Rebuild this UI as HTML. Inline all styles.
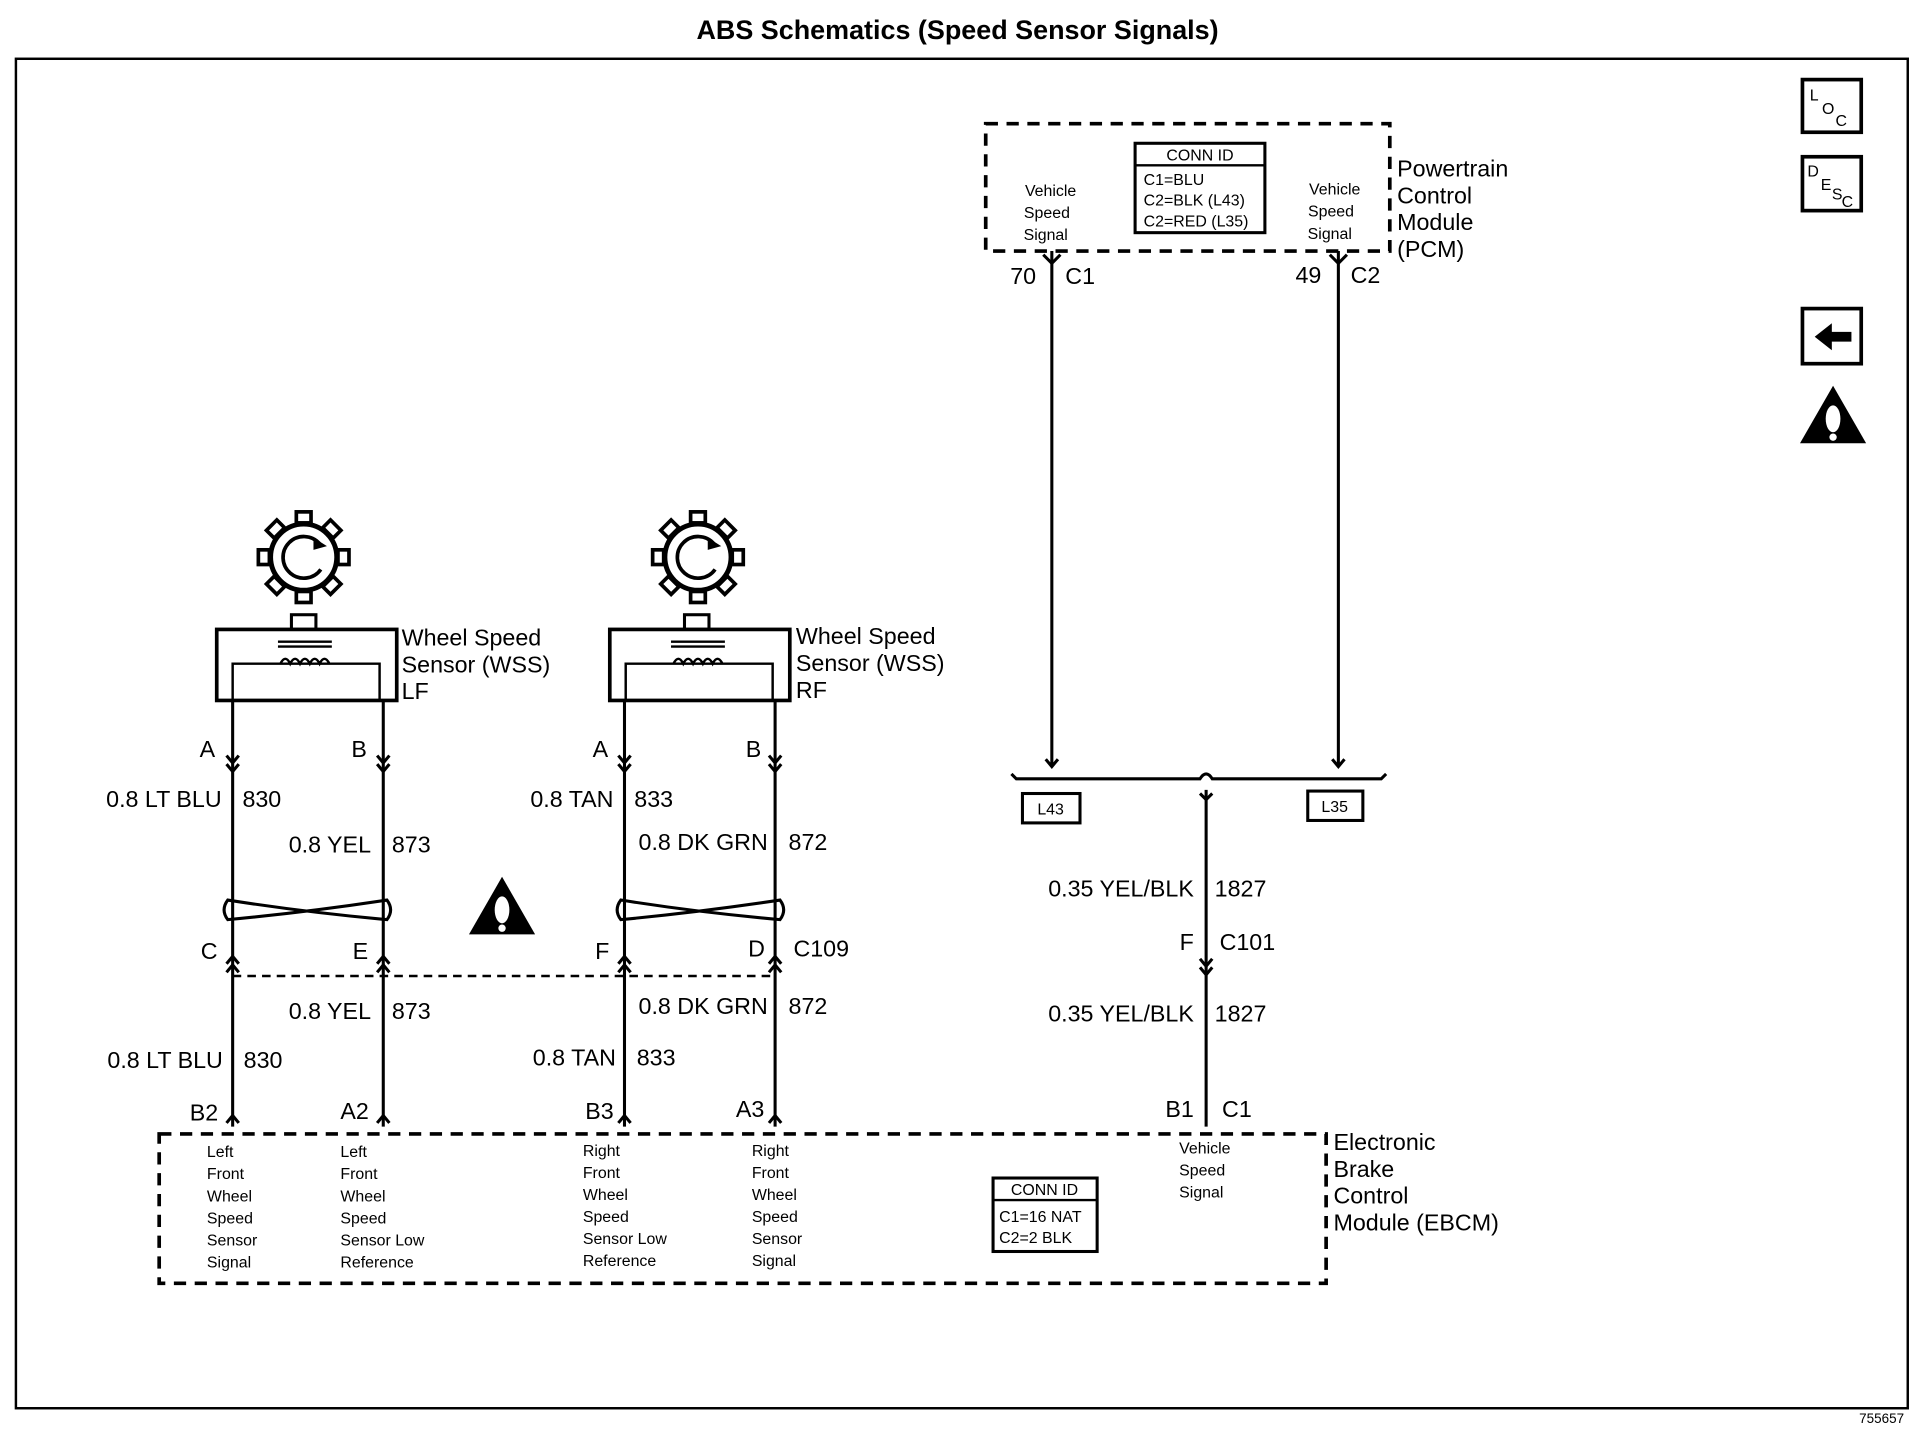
<!DOCTYPE html>
<html><head><meta charset="utf-8"><style>
html,body{margin:0;padding:0;background:#fff}
svg{display:block}
text{font-family:"Liberation Sans",Arial,sans-serif;fill:#000}
</style></head><body>
<svg width="1920" height="1456" viewBox="0 0 1568 1189" preserveAspectRatio="none" xmlns="http://www.w3.org/2000/svg">
<defs>
<g id="gear">
<circle r="27" fill="none" stroke="#000" stroke-width="4"/>
<path d="M 13 -11 A 17 17 0 1 0 14 10" fill="none" stroke="#000" stroke-width="3"/>
<polygon points="8,-16 19,-9 8,-6" fill="#000"/>
<g fill="#fff" stroke="#000" stroke-width="3">
<rect x="-6" y="-37" width="12" height="9" transform="rotate(0)"/>
<rect x="-6" y="-37" width="12" height="9" transform="rotate(45)"/>
<rect x="-6" y="-37" width="12" height="9" transform="rotate(90)"/>
<rect x="-6" y="-37" width="12" height="9" transform="rotate(135)"/>
<rect x="-6" y="-37" width="12" height="9" transform="rotate(180)"/>
<rect x="-6" y="-37" width="12" height="9" transform="rotate(225)"/>
<rect x="-6" y="-37" width="12" height="9" transform="rotate(270)"/>
<rect x="-6" y="-37" width="12" height="9" transform="rotate(315)"/>
</g>
</g>
<g id="sensor">
<rect x="0" y="0" width="147" height="58" fill="none" stroke="#000" stroke-width="3"/>
<rect x="61" y="-12" width="20" height="12" fill="none" stroke="#000" stroke-width="2.5"/>
<path d="M13 58 V28 H133 V58" fill="none" stroke="#000" stroke-width="2"/>
<path d="M50 10 H94 M50 14 H94" stroke="#000" stroke-width="2"/>
<path d="M52 28 q4-8 8 0 q4-8 8 0 q4-8 8 0 q4-8 8 0 q4-8 8 0" fill="none" stroke="#000" stroke-width="2"/>
</g>
<g id="tri"><polygon points="0,-27 27,20 -27,20" fill="#000"/><ellipse cx="0" cy="0" rx="6" ry="11" fill="#fff"/><circle cx="0" cy="15" r="3" fill="#fff"/></g>
</defs>
<text x="782" y="32" font-size="22" font-weight="bold" text-anchor="middle">ABS Schematics (Speed Sensor Signals)</text>
<rect x="13" y="48" width="1545" height="1102" fill="none" stroke="#000" stroke-width="2"/>
<text x="1555" y="1162" font-size="11" text-anchor="end">755657</text>

<!-- right icons -->
<rect x="1472" y="65" width="48" height="43" fill="none" stroke="#000" stroke-width="3"/>
<text x="1478" y="82" font-size="13">L</text><text x="1488" y="93" font-size="13">O</text><text x="1499" y="103" font-size="13">C</text>
<rect x="1472" y="128" width="48" height="44" fill="none" stroke="#000" stroke-width="3"/>
<text x="1476" y="144" font-size="13">D</text><text x="1487" y="155" font-size="13">E</text><text x="1496" y="163" font-size="13">S</text><text x="1504" y="169" font-size="13">C</text>
<rect x="1472" y="252" width="48" height="45" fill="none" stroke="#000" stroke-width="3"/>
<path d="M1482 275 L1496 264 V271 H1512 V279 H1496 V286 Z" fill="#000"/>
<use href="#tri" x="1497" y="342"/>
<use href="#tri" x="410" y="743"/>

<!-- PCM -->
<rect x="805" y="101" width="330" height="104" fill="none" stroke="#000" stroke-width="3" stroke-dasharray="10,7"/>
<rect x="927" y="117" width="106" height="73" fill="none" stroke="#000" stroke-width="2.5"/>
<line x1="927" y1="135" x2="1033" y2="135" stroke="#000" stroke-width="2"/>
<text x="980" y="131" font-size="13" text-anchor="middle">CONN ID</text>
<text x="934" y="151" font-size="13">C1=BLU</text>
<text x="934" y="168" font-size="13">C2=BLK (L43)</text>
<text x="934" y="185" font-size="13">C2=RED (L35)</text>
<text font-size="13" text-anchor="middle"><tspan x="858" y="160">Vehicle</tspan><tspan x="855" y="178">Speed</tspan><tspan x="854" y="196">Signal</tspan></text>
<text font-size="13" text-anchor="middle"><tspan x="1090" y="159">Vehicle</tspan><tspan x="1087" y="177">Speed</tspan><tspan x="1086" y="195">Signal</tspan></text>
<text font-size="19"><tspan x="1141" y="144">Powertrain</tspan><tspan x="1141" y="166">Control</tspan><tspan x="1141" y="188">Module</tspan><tspan x="1141" y="210">(PCM)</tspan></text>
<g stroke="#000" stroke-width="2.5" fill="none">
<path d="M859 205 V625 M854 620 l5 6 l5-6"/>
<path d="M1093 205 V625 M1088 620 l5 6 l5-6"/>
<path d="M852 208 l7 7 l7-7 M1086 208 l7 7 l7-7"/>
<path d="M826 632 l4 4 H980 q5-8 10 0 H1128 l4-4"/>
<path d="M985 645 V920"/>
<path d="M980 648 l5 5 l5-5"/>
<path d="M980 783 l5 6 l5-6 M980 790 l5 6 l5-6"/>
<rect x="835" y="648" width="47" height="24"/>
<rect x="1068" y="646" width="45" height="24"/>
</g>
<text font-size="13" x="858" y="665" text-anchor="middle">L43</text>
<text font-size="13" x="1090" y="663" text-anchor="middle">L35</text>
<text font-size="19"><tspan x="825" y="232">70</tspan><tspan x="870" y="232">C1</tspan><tspan x="1058" y="231">49</tspan><tspan x="1103" y="231">C2</tspan></text>
<text font-size="19" x="975" y="732" text-anchor="end">0.35 YEL/BLK</text><text font-size="19" x="992" y="732">1827</text>
<text font-size="19" x="975" y="776" text-anchor="end">F</text><text font-size="19" x="996" y="776">C101</text>
<text font-size="19" x="975" y="834" text-anchor="end">0.35 YEL/BLK</text><text font-size="19" x="992" y="834">1827</text>
<text font-size="19" x="975" y="912" text-anchor="end">B1</text><text font-size="19" x="998" y="912">C1</text>

<!-- sensors -->
<use href="#gear" x="248" y="455"/>
<use href="#gear" x="570" y="455"/>
<use href="#sensor" x="177" y="514"/>
<use href="#sensor" x="498" y="514"/>
<text font-size="19"><tspan x="328" y="527">Wheel Speed</tspan><tspan x="328" y="549">Sensor (WSS)</tspan><tspan x="328" y="571">LF</tspan></text>
<text font-size="19"><tspan x="650" y="526">Wheel Speed</tspan><tspan x="650" y="548">Sensor (WSS)</tspan><tspan x="650" y="570">RF</tspan></text>

<g stroke="#000" stroke-width="2.5" fill="none">
<path d="M190 572 V920 M313 572 V920 M510 572 V920 M633 572 V920"/>
<path d="M185 617 l5 6 l5-6 M185 624 l5 6 l5-6 M308 617 l5 6 l5-6 M308 624 l5 6 l5-6 M505 617 l5 6 l5-6 M505 624 l5 6 l5-6 M628 617 l5 6 l5-6 M628 624 l5 6 l5-6"/>
<path d="M185 787 l5-6 l5 6 M185 794 l5-6 l5 6 M308 787 l5-6 l5 6 M308 794 l5-6 l5 6 M505 787 l5-6 l5 6 M505 794 l5-6 l5 6 M628 787 l5-6 l5 6 M628 794 l5-6 l5 6"/>
<path d="M185 917 l5-6 l5 6 M308 917 l5-6 l5 6 M505 917 l5-6 l5 6 M628 917 l5-6 l5 6"/>
<path d="M186 735 Q250 745 316 751 Q322 743 316 735 Q250 745 186 751 Q180 743 186 735 Z"/>
<path d="M507 735 Q570 745 637 751 Q643 743 637 735 Q570 745 507 751 Q501 743 507 735 Z"/>
<path d="M190 797 H633" stroke-width="2" stroke-dasharray="7,5"/>
</g>
<g font-size="19">
<text x="163" y="618">A</text><text x="287" y="618">B</text><text x="484" y="618">A</text><text x="609" y="618">B</text>
<text x="181" y="659" text-anchor="end">0.8 LT BLU</text><text x="198" y="659">830</text>
<text x="303" y="696" text-anchor="end">0.8 YEL</text><text x="320" y="696">873</text>
<text x="501" y="659" text-anchor="end">0.8 TAN</text><text x="518" y="659">833</text>
<text x="627" y="694" text-anchor="end">0.8 DK GRN</text><text x="644" y="694">872</text>
<text x="164" y="783">C</text><text x="288" y="783">E</text><text x="486" y="783">F</text><text x="611" y="781">D</text><text x="648" y="781">C109</text>
<text x="303" y="832" text-anchor="end">0.8 YEL</text><text x="320" y="832">873</text>
<text x="627" y="828" text-anchor="end">0.8 DK GRN</text><text x="644" y="828">872</text>
<text x="182" y="872" text-anchor="end">0.8 LT BLU</text><text x="199" y="872">830</text>
<text x="503" y="870" text-anchor="end">0.8 TAN</text><text x="520" y="870">833</text>
<text x="155" y="915">B2</text><text x="278" y="914">A2</text><text x="478" y="914">B3</text><text x="601" y="912">A3</text>
</g>

<!-- EBCM -->
<rect x="130" y="926" width="953" height="122" fill="none" stroke="#000" stroke-width="3" stroke-dasharray="10,7"/>
<g font-size="13">
<text><tspan x="169" y="945">Left</tspan><tspan x="169" y="963">Front</tspan><tspan x="169" y="981">Wheel</tspan><tspan x="169" y="999">Speed</tspan><tspan x="169" y="1017">Sensor</tspan><tspan x="169" y="1035">Signal</tspan></text>
<text><tspan x="278" y="945">Left</tspan><tspan x="278" y="963">Front</tspan><tspan x="278" y="981">Wheel</tspan><tspan x="278" y="999">Speed</tspan><tspan x="278" y="1017">Sensor Low</tspan><tspan x="278" y="1035">Reference</tspan></text>
<text><tspan x="476" y="944">Right</tspan><tspan x="476" y="962">Front</tspan><tspan x="476" y="980">Wheel</tspan><tspan x="476" y="998">Speed</tspan><tspan x="476" y="1016">Sensor Low</tspan><tspan x="476" y="1034">Reference</tspan></text>
<text><tspan x="614" y="944">Right</tspan><tspan x="614" y="962">Front</tspan><tspan x="614" y="980">Wheel</tspan><tspan x="614" y="998">Speed</tspan><tspan x="614" y="1016">Sensor</tspan><tspan x="614" y="1034">Signal</tspan></text>
<text><tspan x="963" y="942">Vehicle</tspan><tspan x="963" y="960">Speed</tspan><tspan x="963" y="978">Signal</tspan></text>
</g>
<rect x="811" y="962" width="85" height="60" fill="none" stroke="#000" stroke-width="2.5"/>
<line x1="811" y1="980" x2="896" y2="980" stroke="#000" stroke-width="2"/>
<text font-size="13" x="853" y="976" text-anchor="middle">CONN ID</text>
<text font-size="13"><tspan x="816" y="998">C1=16 NAT</tspan><tspan x="816" y="1015">C2=2 BLK</tspan></text>
<text font-size="19"><tspan x="1089" y="939">Electronic</tspan><tspan x="1089" y="961">Brake</tspan><tspan x="1089" y="983">Control</tspan><tspan x="1089" y="1005">Module (EBCM)</tspan></text>
</svg>
</body></html>
